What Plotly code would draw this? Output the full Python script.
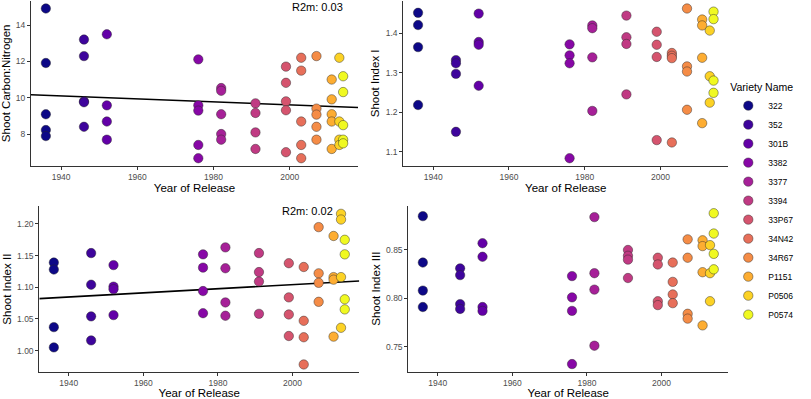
import plotly.graph_objects as go

# ---------------- data ----------------
varieties = ["322", "352", "301B", "3382", "3377", "3394", "33P67", "34N42",
             "34R67", "P1151", "P0506", "P0574"]
release_year = [1936, 1946, 1952, 1976, 1982, 1991, 1999, 2003, 2007, 2011, 2013, 2014]
variety_colors = ["#0D0887", "#3E049C", "#6300A7", "#8707A6", "#A62098", "#C03A83",
                  "#D5546E", "#E76F5A", "#F58C46", "#FDAD32", "#FCD225", "#F0F921"]

carbon_nitrogen = [
    [14.91, 11.91, 9.09, 8.22, 7.89],
    [13.20, 12.29, 9.80, 9.75, 8.40],
    [13.49, 9.58, 8.69, 7.69],
    [12.11, 9.58, 9.29, 7.40, 6.67],
    [10.53, 10.38, 9.09, 8.00, 7.69],
    [9.69, 9.16, 8.09, 7.18],
    [11.71, 10.82, 9.80, 9.31, 7.00],
    [12.20, 11.49, 8.69, 7.40, 6.67],
    [12.29, 9.40, 9.07, 8.40, 7.69],
    [11.00, 9.91, 9.09, 8.69, 7.18],
    [12.20, 8.69, 7.69, 7.40],
    [11.18, 10.31, 8.49, 7.69, 7.49],
]
shoot_index_1 = [
    [1.452, 1.421, 1.365, 1.218],
    [1.332, 1.324, 1.297, 1.150],
    [1.450, 1.378, 1.371, 1.267],
    [1.372, 1.344, 1.324, 1.083],
    [1.420, 1.413, 1.339, 1.203],
    [1.445, 1.390, 1.373, 1.245],
    [1.404, 1.371, 1.340, 1.129],
    [1.350, 1.343, 1.337, 1.123],
    [1.463, 1.316, 1.303, 1.206],
    [1.435, 1.420, 1.338, 1.172],
    [1.407, 1.291, 1.224],
    [1.455, 1.436, 1.280, 1.249],
]
shoot_index_2 = [
    [1.139, 1.128, 1.037, 1.005],
    [1.154, 1.104, 1.054, 1.016],
    [1.135, 1.101, 1.097, 1.056],
    [1.152, 1.131, 1.094, 1.059],
    [1.163, 1.130, 1.076, 1.055],
    [1.154, 1.124, 1.109, 1.058],
    [1.138, 1.084, 1.057, 1.023],
    [1.132, 1.047, 1.021, 0.978],
    [1.195, 1.122, 1.107, 1.077],
    [1.181, 1.116, 1.112, 1.022],
    [1.216, 1.207, 1.116, 1.036],
    [1.175, 1.152, 1.081, 1.065],
]
shoot_index_3 = [
    [0.885, 0.837, 0.808, 0.791],
    [0.831, 0.824, 0.794, 0.789],
    [0.857, 0.843, 0.791, 0.787],
    [0.823, 0.801, 0.787, 0.732],
    [0.884, 0.826, 0.809, 0.751],
    [0.850, 0.844, 0.840, 0.821],
    [0.842, 0.835, 0.797, 0.793],
    [0.837, 0.817, 0.804, 0.795],
    [0.861, 0.842, 0.784, 0.779],
    [0.860, 0.854, 0.827, 0.772],
    [0.855, 0.826, 0.797],
    [0.888, 0.867, 0.846, 0.830],
]

# fitted mixed-model fixed effects (value at 1932, slope per year)
cn_fit = {"at1932": 10.16, "slope": -0.00816, "r2m": "R2m: 0.03"}
si2_fit = {"at1932": 1.082, "slope": 0.000326, "r2m": "R2m: 0.02"}

y_titles = ["Shoot Carbon:Nitrogen", "Shoot Index I", "Shoot Index II", "Shoot Index III"]
x_title = "Year of Release"

# ---------------- figure ----------------
W, H = 811, 399
panels = [
    dict(data=carbon_nitrogen, px=(31, 358), py=(1, 165.7), fit=cn_fit, ann=(2007.4, 15.0),
         dtick=2, fmt=None),
    dict(data=shoot_index_1, px=(403.3, 728.3), py=(1, 165.7), fit=None, ann=None,
         dtick=0.1, fmt=".1f"),
    dict(data=shoot_index_2, px=(39.3, 359.3), py=(206.3, 372), fit=si2_fit, ann=(2004.1, 1.2197),
         dtick=0.05, fmt=".2f"),
    dict(data=shoot_index_3, px=(408.3, 728.3), py=(205.7, 371.6), fit=None, ann=None,
         dtick=0.05, fmt=".2f"),
]

yr_min, yr_max = min(release_year), max(release_year)
xpad = (yr_max - yr_min) * 0.05
xrange = [yr_min - xpad, yr_max + xpad]

fig = go.Figure()
FONT = "Liberation Sans, Arial, sans-serif"
tick_font = dict(family=FONT, size=8.5, color="#4d4d4d")
title_font = dict(family=FONT, size=11.5, color="black")

annotations = []
for i, p in enumerate(panels):
    k = "" if i == 0 else str(i + 1)
    xa, ya = "x" + k, "y" + k
    allv = [v for grp in p["data"] for v in grp]
    lo, hi = min(allv), max(allv)
    pad = (hi - lo) * 0.05
    yrange = [lo - pad, hi + pad]

    if p["fit"] is not None:
        f = p["fit"]
        xs = xrange
        ys = [f["at1932"] + f["slope"] * (x - 1932.1) for x in xs]
        fig.add_trace(go.Scatter(x=xs, y=ys, mode="lines", xaxis=xa, yaxis=ya,
                                 line=dict(color="black", width=1.6),
                                 showlegend=False, hoverinfo="skip"))
        annotations.append(dict(x=p["ann"][0], y=p["ann"][1], xref=xa, yref=ya,
                                text=f["r2m"], showarrow=False,
                                font=dict(family=FONT, size=11, color="black")))

    for j, name in enumerate(varieties):
        vals = p["data"][j]
        fig.add_trace(go.Scatter(
            x=[release_year[j]] * len(vals), y=vals, mode="markers",
            xaxis=xa, yaxis=ya, name=name, legendgroup=name,
            showlegend=(i == 0),
            marker=dict(size=9.4, color=variety_colors[j],
                        line=dict(color="rgba(40,40,40,0.75)", width=0.6)),
        ))

    axis_common = dict(showline=True, linecolor="#333333", linewidth=1,
                       ticks="outside", ticklen=3, tickcolor="#333333", tickwidth=1,
                       showgrid=False, zeroline=False, tickfont=tick_font)
    xdom = [p["px"][0] / W, p["px"][1] / W]
    ydom = [1 - p["py"][1] / H, 1 - p["py"][0] / H]
    yextra = dict(dtick=p["dtick"])
    if p["fmt"]:
        yextra["tickformat"] = p["fmt"]
    fig.update_layout(**{
        "xaxis" + k: dict(domain=xdom, range=xrange, anchor=ya,
                          tickvals=[1940, 1960, 1980, 2000],
                          title=dict(text=x_title, font=title_font, standoff=0),
                          **axis_common),
        "yaxis" + k: dict(domain=ydom, range=yrange, anchor=xa,
                          title=dict(text=y_titles[i], font=title_font, standoff=3),
                          **yextra, **axis_common),
    })

fig.update_layout(
    width=W, height=H,
    margin=dict(l=0, r=0, t=0, b=0),
    paper_bgcolor="white", plot_bgcolor="white",
    font=dict(family=FONT),
    annotations=annotations,
    legend=dict(title=dict(text="Variety Name", font=dict(family=FONT, size=10.5, color="black")),
                font=dict(family=FONT, size=8.5, color="black"),
                x=0.898, xanchor="left", y=0.49, yanchor="middle",
                itemwidth=30,
                tracegroupgap=0, bgcolor="rgba(0,0,0,0)"),
)

fig.write_html("out.html", config={"displayModeBar": False},
               post_script="document.body.style.margin='0';document.body.style.overflow='hidden';")
